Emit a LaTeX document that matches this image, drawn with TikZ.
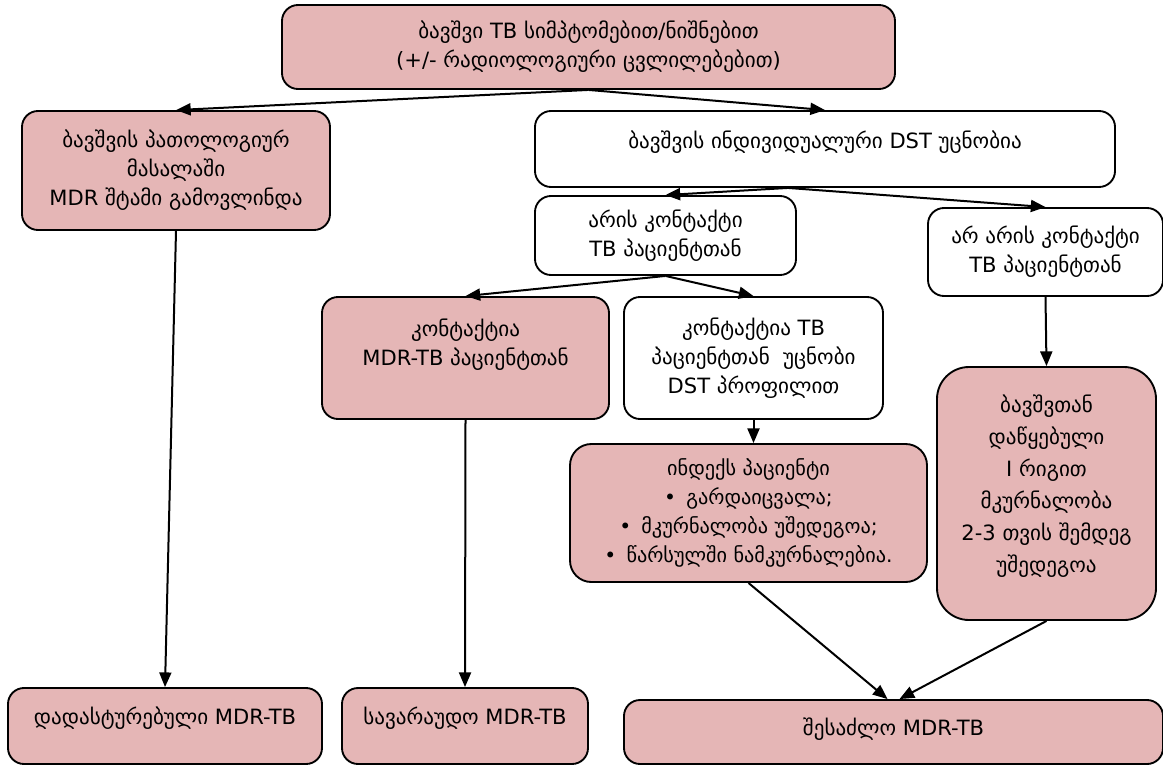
\documentclass[tikz,border=0pt]{standalone}
\usepackage{fontspec}
\setmainfont{DejaVu Sans}
\usetikzlibrary{arrows.meta,calc}
\definecolor{pinkfill}{RGB}{229,182,182}
\begin{document}
\begin{tikzpicture}[x=0.75pt,y=-0.75pt,
  box/.style={draw=black, line width=1.4pt, rounded corners=12pt, align=center,
    font=\fontsize{15.8}{21.8}\selectfont, inner sep=2pt},
  pinkbox/.style={box, fill=pinkfill},
  whitebox/.style={box, fill=white},
  arr/.style={-{Triangle[length=11pt,width=9pt]}, line width=1.5pt}]
\useasboundingbox (0,0) rectangle (1163,764);

\node[pinkbox, minimum width=459.75pt, minimum height=63pt] (top) at (588.5,47)
  {ბავშვი TB სიმპტომებით/ნიშნებით\\(+/- რადიოლოგიური ცვლილებებით)};
\node[pinkbox, minimum width=231pt, minimum height=89.25pt] (left) at (176,170.5)
  {ბავშვის პათოლოგიურ\\მასალაში\\MDR შტამი გამოვლინდა};
\node[whitebox, minimum width=435pt, minimum height=57pt] (dst) at (825,149)
  {ბავშვის ინდივიდუალური DST უცნობია\\[-8pt]\mbox{}};
\node[whitebox, minimum width=195.75pt, minimum height=59.25pt] (contact) at (665.5,235.5)
  {არის კონტაქტი\\TB პაციენტთან};
\node[whitebox, minimum width=176.25pt, minimum height=66pt] (nocontact) at (1045.5,252)
  {არ არის კონტაქტი\\TB პაციენტთან};
\node[pinkbox, minimum width=215.25pt, minimum height=91.5pt] (mdrc) at (465.5,358)
  {კონტაქტია\\MDR-TB პაციენტთან\\[2.5pt]\mbox{}};
\node[whitebox, minimum width=194.25pt, minimum height=91.5pt] (unk) at (753.5,358)
  {კონტაქტია TB\\პაციენტთან~ უცნობი\\DST პროფილით};
\node[pinkbox, minimum width=267.75pt, minimum height=103.5pt, rounded corners=16pt,
  font=\fontsize{15.2}{21.8}\selectfont] (index) at (748.5,513)
  {ინდექს პაციენტი\\•\enspace გარდაიცვალა;\\•\enspace მკურნალობა უშედეგოა;\\•\enspace წარსულში ნამკურნალებია.};
\node[pinkbox, minimum width=164.25pt, minimum height=189.75pt, rounded corners=24pt,
  font=\fontsize{15.8}{24}\selectfont] (right) at (1046.5,493.5)
  {ბავშვთან\\დაწყებული\\I რიგით\\მკურნალობა\\2-3 თვის შემდეგ\\უშედეგოა\\[-9pt]\mbox{}};
\node[pinkbox, minimum width=235.5pt, minimum height=57pt] (b1) at (165,726)
  {დადასტურებული MDR-TB\\[-6.5pt]\mbox{}};
\node[pinkbox, minimum width=184.5pt, minimum height=57pt] (b2) at (465,726)
  {სავარაუდო MDR-TB\\[-6.5pt]\mbox{}};
\node[pinkbox, minimum width=404.25pt, minimum height=48pt] (b3) at (893.5,732)
  {შესაძლო MDR-TB\\[-14pt]\mbox{}};

\draw[arr] (top.south) -- (left.north);
\draw[arr] (top.south) -- (dst.north);
\draw[arr] ($(dst.south)+(-37,0)$) -- (contact.north);
\draw[arr] ($(dst.south)+(-37,0)$) -- (nocontact.north);
\draw[arr] (contact.south) -- (mdrc.north);
\draw[arr] (contact.south) -- (unk.north);
\draw[arr] (unk.south) -- (unk.south |- index.north);
\draw[arr] (nocontact.south) -- (right.north);
\draw[arr] (left.south) -- (b1.north);
\draw[arr] (mdrc.south) -- (b2.north);
\draw[arr] (index.south) -- ($(b3.north)+(-6,0)$);
\draw[arr] (right.south) -- ($(b3.north)+(6,0)$);
\end{tikzpicture}
\end{document}
